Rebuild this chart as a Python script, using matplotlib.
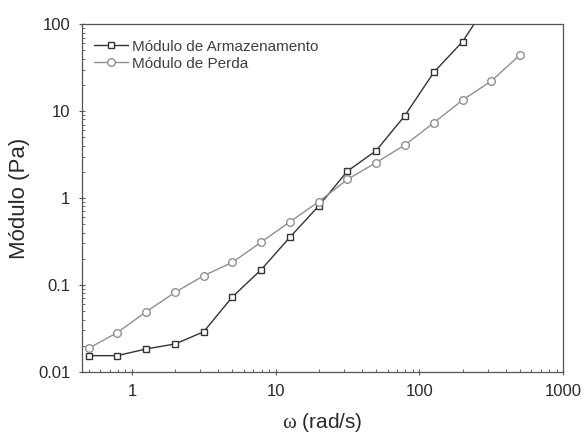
import matplotlib
matplotlib.use("Agg")
import matplotlib.pyplot as plt
from matplotlib.ticker import LogLocator, NullFormatter, FixedLocator, FixedFormatter

omega = [0.5, 0.79, 1.26, 2.0, 3.16, 5.0, 7.9, 12.6, 20, 31.6, 50, 79, 126, 200, 316, 500]
storage = [0.0154, 0.0154, 0.0184, 0.021, 0.029, 0.073, 0.149, 0.356, 0.815, 2.04, 3.5, 8.8, 27.9, 63, 200]
loss = [0.0187, 0.0283, 0.0494, 0.0824, 0.128, 0.182, 0.31, 0.534, 0.91, 1.64, 2.55, 4.06, 7.34, 13.4, 22.1, 44.1]

x_ticks = [1, 10, 100, 1000]
x_labels = ["1", "10", "100", "1000"]
y_ticks = [0.01, 0.1, 1, 10, 100]
y_labels = ["0.01", "0.1", "1", "10", "100"]

label_storage = "Módulo de Armazenamento"
label_loss = "Módulo de Perda"

plt.rcParams['font.family'] = ['Liberation Sans', 'DejaVu Sans']
plt.rcParams['mathtext.fontset'] = 'custom'
plt.rcParams['mathtext.rm'] = 'Liberation Serif'
txt = '#2a2a2a'

fig = plt.figure(figsize=(5.86, 4.46), dpi=100)
ax = fig.add_axes([0.140, 0.166, 0.821, 0.780])

ax.plot(omega[:len(storage)], storage, '-s', color='#333333', lw=1.0, ms=5,
        mfc='white', mec='#333333', mew=1.0, label=label_storage)
ax.plot(omega, loss, '-o', color='#909090', lw=1.0, ms=5.5,
        mfc='white', mec='#909090', mew=1.0, label=label_loss)

ax.set_xscale('log')
ax.set_yscale('log')
ax.set_xlim(0.45, 1000)
ax.set_ylim(0.01, 100)

ax.xaxis.set_major_locator(FixedLocator(x_ticks))
ax.xaxis.set_major_formatter(FixedFormatter(x_labels))
ax.yaxis.set_major_locator(FixedLocator(y_ticks))
ax.yaxis.set_major_formatter(FixedFormatter(y_labels))
ax.xaxis.set_minor_locator(LogLocator(base=10, subs=range(2, 10), numticks=20))
ax.yaxis.set_minor_locator(LogLocator(base=10, subs=range(2, 10), numticks=20))
ax.xaxis.set_minor_formatter(NullFormatter())
ax.yaxis.set_minor_formatter(NullFormatter())

ax.tick_params(which='major', direction='inout', length=5, width=0.8, colors='#555555',
               labelsize=12, labelcolor=txt, pad=6)
ax.tick_params(which='minor', direction='in', length=2.5, width=0.7, colors='#666666')
for s in ax.spines.values():
    s.set_color('#555555')
    s.set_linewidth(0.9)

ax.set_ylabel("Módulo (Pa)", fontsize=16, color=txt, labelpad=6)
ax.set_xlabel(r"$\mathrm{ω}$ (rad/s)", fontsize=15, color=txt, labelpad=9)

leg = ax.legend(loc='upper left', frameon=False, fontsize=11, handlelength=2.2,
                handletextpad=0.3, borderaxespad=0.4, labelspacing=0.2,
                bbox_to_anchor=(0.0, 0.99))
for t in leg.get_texts():
    t.set_color('#404040')

fig.savefig("out.png", dpi=100)
